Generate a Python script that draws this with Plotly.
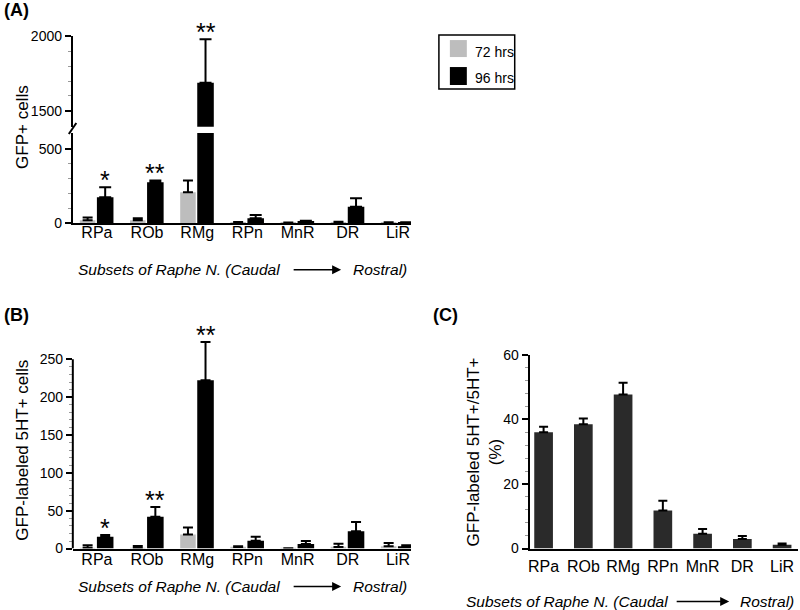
import plotly.graph_objects as go

regions = ["RPa", "ROb", "RMg", "RPn", "MnR", "DR", "LiR"]
series_names = ["72 hrs", "96 hrs"]

# Panel A: GFP+ cells
a_72 = [18, 18, 207, 3, 2, 5, 3]
a_72_err = [18, 14, 79, 3, 1, 3, 2]
a_96 = [174, 275, 1688, 32, 8, 110, 3]
a_96_err = [67, 12, 290, 22, 6, 57, 2]
a_stars = ["*", "**", "**", "", "", "", ""]

# Panel B: GFP-labeled 5HT+ cells
b_72 = [1, 1, 18.5, 2, 0.5, 2, 3]
b_72_err = [3.5, 2.5, 9.5, 1, 0, 4.5, 4.5]
b_96 = [15.5, 42, 222.5, 10.5, 6, 23, 3]
b_96_err = [2.5, 13, 50.5, 5, 4, 12, 1.5]
b_stars = ["*", "**", "**", "", "", "", ""]

# Panel C: GFP-labeled 5HT+/5HT+ (%)
c_pct = [36, 38.5, 47.7, 11.8, 4.6, 3.0, 1.2]
c_pct_err = [1.7, 1.8, 3.6, 3.0, 1.5, 0.9, 0.4]

W, H = 800, 610
FONT = "Liberation Sans, Arial, sans-serif"
GRAY = "#bdbdbd"
BLACK = "#000000"
DARK = "#2a2a2a"

# layout helpers: convert screen pixel positions to paper fractions
VS, VOFF = 0.9747, 7.9


def px(x):
    return x / W


def py(y):
    return 1 - ((y - VOFF) / VS) / H


fig = go.Figure()


def up_err(vals, width):
    return dict(type="data", array=vals, arrayminus=[0] * len(vals), symmetric=False,
                color="black", thickness=2, width=width)


GOFF, GW = -0.34, 0.31
BOFF, BW = 0.0, 0.33

# Panel A (lower and upper segments of broken axis)
for ya in ["y", "y2"]:
    fig.add_trace(go.Bar(x=regions, y=a_72, error_y=up_err(a_72_err, 5), marker_color=GRAY,
                         marker_line_width=0, offset=GOFF, width=GW, xaxis="x", yaxis=ya,
                         name=series_names[0], showlegend=False))
    fig.add_trace(go.Bar(x=regions, y=a_96, error_y=up_err(a_96_err, 6), marker_color=BLACK,
                         marker_line_width=0, offset=BOFF, width=BW, xaxis="x", yaxis=ya,
                         name=series_names[1], showlegend=False))

# Panel B
fig.add_trace(go.Bar(x=regions, y=b_72, error_y=up_err(b_72_err, 5), marker_color=GRAY,
                     marker_line_width=0, offset=GOFF, width=GW, xaxis="x2", yaxis="y3",
                     name=series_names[0], showlegend=False))
fig.add_trace(go.Bar(x=regions, y=b_96, error_y=up_err(b_96_err, 5), marker_color=BLACK,
                     marker_line_width=0, offset=BOFF, width=BW, xaxis="x2", yaxis="y3",
                     name=series_names[1], showlegend=False))

# Panel C
fig.add_trace(go.Bar(x=regions, y=c_pct, error_y=up_err(c_pct_err, 4.5), marker_color=DARK,
                     marker_line_width=0, width=0.47, xaxis="x3", yaxis="y4",
                     name="GFP-labeled 5HT+/5HT+", showlegend=False))

axis_common = dict(showgrid=False, zeroline=False, linecolor="black", linewidth=2)
ytick = dict(ticks="outside", ticklen=6, tickwidth=2, tickcolor="black",
             tickfont=dict(family=FONT, size=14, color="black"))
xtick = dict(ticks="", tickfont=dict(family=FONT, size=16, color="black"),
             type="category")

B_TOP = 549 - 280 * 0.7576

fig.update_layout(
    width=W, height=H, margin=dict(l=0, r=0, t=0, b=0),
    paper_bgcolor="white", plot_bgcolor="white", showlegend=False,
    barmode="overlay", font=dict(family=FONT, color="black"),
    xaxis=dict(**axis_common, **xtick, domain=[px(71), px(410)], range=[-0.48, 6.26],
               anchor="y", showline=True, ticklabelstandoff=-6),
    yaxis=dict(**axis_common, **ytick, domain=[py(223), py(133)], range=[0, 608],
               tickvals=[0, 500], anchor="x", showline=True,
               minor=dict(tickvals=[100, 200, 300, 400], ticklen=3, tickwidth=1,
                          tickcolor="#999999", ticks="outside")),
    yaxis2=dict(**axis_common, **ytick, domain=[py(126.7), py(36)], range=[1395, 2000],
                tickvals=[1500, 2000], anchor="x", showline=True,
                minor=dict(tickvals=[1600, 1700, 1800, 1900], ticklen=3, tickwidth=1,
                           tickcolor="#999999", ticks="outside")),
    xaxis2=dict(**axis_common, **xtick, domain=[px(71), px(410)], range=[-0.48, 6.26],
                anchor="y3", showline=True, ticklabelstandoff=-5),
    yaxis3=dict(**axis_common, **ytick, domain=[py(549), py(B_TOP)],
                range=[0, 280], tickvals=[0, 50, 100, 150, 200, 250], anchor="x2",
                showline=False,
                minor=dict(tickvals=[v for v in range(10, 250, 10) if v % 50], ticklen=3,
                           tickwidth=1, tickcolor="#999999", ticks="outside")),
    xaxis3=dict(**axis_common, **xtick, domain=[px(529), px(798)], range=[-0.35, 6.4],
                anchor="y4", showline=True, ticklabelstandoff=2),
    yaxis4=dict(**axis_common, **ytick, domain=[py(549), py(355)], range=[0, 60],
                tickvals=[0, 20, 40, 60], anchor="x3", showline=True,
                minor=dict(tickvals=[v for v in range(4, 60, 4) if v % 20], ticklen=3,
                           tickwidth=1, tickcolor="#999999", ticks="outside")),
)

shapes = []
# axis line of panel B, ending at the top tick
shapes.append(dict(type="line", xref="x2 domain", yref="y3", x0=0, x1=0, y0=0, y1=250,
                   line=dict(color="black", width=2)))
# break mark on panel A axis
shapes.append(dict(type="line", xref="paper", yref="paper", x0=px(67), x1=px(74.5),
                   y0=py(134), y1=py(123), line=dict(color="black", width=2)))
# manual legend
shapes.append(dict(type="rect", xref="paper", yref="paper", x0=px(438), x1=px(514),
                   y0=py(89), y1=py(35), line=dict(color="black", width=1.5)))
shapes.append(dict(type="rect", xref="paper", yref="paper", x0=px(449), x1=px(466),
                   y0=py(57), y1=py(40), line=dict(width=0), fillcolor=GRAY))
shapes.append(dict(type="rect", xref="paper", yref="paper", x0=px(449), x1=px(466),
                   y0=py(85), y1=py(67), line=dict(width=0), fillcolor=BLACK))
fig.update_layout(shapes=shapes)

ann = []


def txt(x, y, s, size=16, **kw):
    d = dict(xref="paper", yref="paper", x=px(x), y=py(y), text=s, showarrow=False,
             font=dict(family=FONT, size=size, color="black"), xanchor="center",
             yanchor="middle")
    d.update(kw)
    ann.append(d)


# panel labels
txt(0, 10, "<b>(A)</b>", size=18, xanchor="left")
txt(0, 315, "<b>(B)</b>", size=18, xanchor="left")
txt(430, 315, "<b>(C)</b>", size=18, xanchor="left")

# legend texts
txt(472, 52, series_names[0], size=14, xanchor="left")
txt(472, 78, series_names[1], size=14, xanchor="left")

# y axis titles
txt(21, 127, "GFP+ cells", size=17, textangle=-90)
txt(21, 450, "GFP-labeled 5HT+ cells", size=17, textangle=-90)
txt(484, 452, "GFP-labeled 5HT+/5HT+<br>(%)", size=17, textangle=-90)


def xtitle(x_left, x_arrow0, x_arrow1, x_right, y):
    txt(x_left, y, "<i>Subsets of Raphe N. (Caudal</i>", size=15.5, xanchor="left")
    ann.append(dict(xref="paper", yref="paper", x=px(x_arrow1), y=py(y), ax=x_arrow0 - x_arrow1,
                    ay=0, axref="pixel", ayref="pixel", text="", showarrow=True,
                    arrowhead=2, arrowsize=1.2, arrowwidth=1.5, arrowcolor="black"))
    txt(x_right, y, "<i>Rostral)</i>", size=15.5, xanchor="left")


xtitle(74, 291, 340, 350, 270)
xtitle(74, 291, 340, 350, 587)
xtitle(463, 675, 729, 738, 602)

# significance stars
for i, s in enumerate(a_stars):
    if s:
        top = a_96[i] + a_96_err[i]
        yref = "y2" if top > 608 else "y"
        ann.append(dict(xref="x", yref=yref, x=i + BOFF + BW / 2, y=top, text=s,
                        showarrow=False, yanchor="bottom", yshift=-9,
                        font=dict(family=FONT, size=25, color="black")))
for i, s in enumerate(b_stars):
    if s:
        top = b_96[i] + b_96_err[i]
        ann.append(dict(xref="x2", yref="y3", x=i + BOFF + BW / 2, y=top, text=s,
                        showarrow=False, yanchor="bottom", yshift=-9,
                        font=dict(family=FONT, size=25, color="black")))

fig.update_layout(annotations=ann)
fig.write_html("out.html", post_script="document.body.style.margin='0';",
               config={"displayModeBar": False})
